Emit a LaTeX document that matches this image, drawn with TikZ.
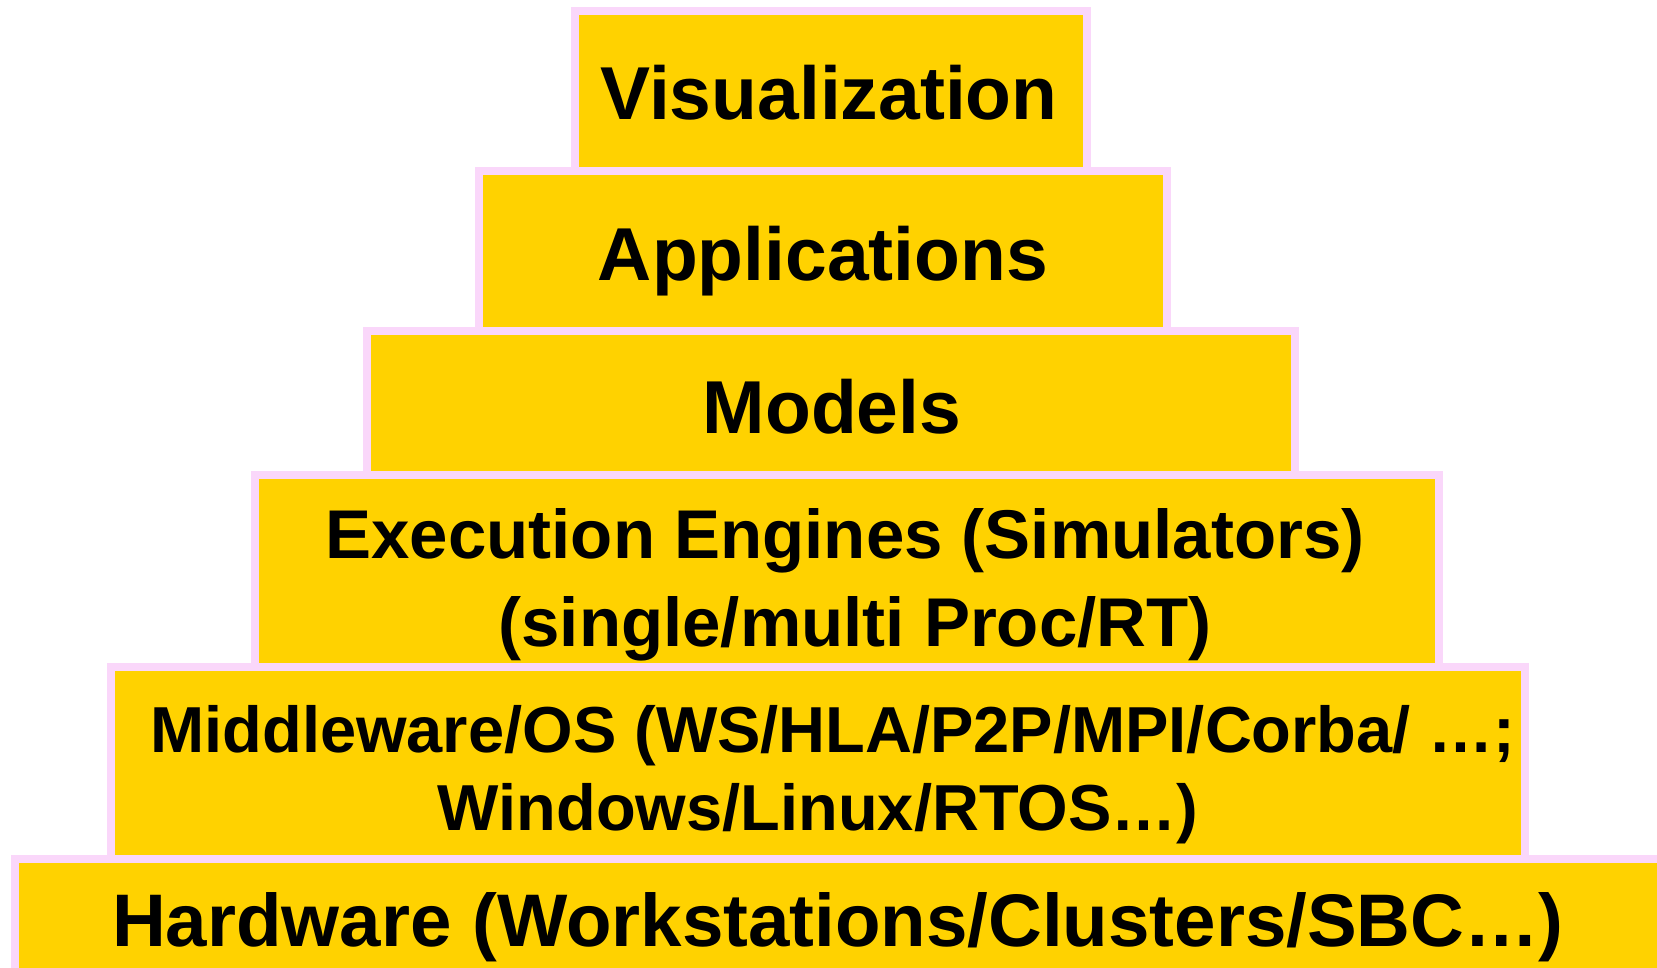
\documentclass[tikz,border=0pt]{standalone}
\usepackage{fontspec}
\setmainfont{Liberation Sans}
\definecolor{layerfill}{HTML}{FFD200}
\definecolor{layeredge}{HTML}{FAD7FA}
\tikzset{
  layer/.style={draw=layeredge, fill=layerfill, line width=8pt, inner sep=0pt, outer sep=0pt},
  big/.style={anchor=base, inner sep=0pt, font=\bfseries\fontsize{75}{90}\selectfont},
  mid/.style={anchor=base, inner sep=0pt, font=\bfseries\fontsize{69}{83}\selectfont},
  small/.style={anchor=base, inner sep=0pt, font=\bfseries\fontsize{65}{78}\selectfont},
}
\begin{document}
\begin{tikzpicture}[x=1pt, y=-1pt]
  \useasboundingbox (0,0) rectangle (1657,968);
  \clip (0,0) rectangle (1657,968);
  % layers of the stack, bottom to top
  \node[layer, minimum width=1665pt, minimum height=121pt] (hw)  at (847.5,919.5) {};
  \node[layer, minimum width=1414pt, minimum height=192pt] (mw)  at (818,763) {};
  \node[layer, minimum width=1184pt, minimum height=192pt] (ee)  at (847,571) {};
  \node[layer, minimum width=928pt,  minimum height=144pt] (mod) at (831,403) {};
  \node[layer, minimum width=688pt,  minimum height=160pt] (app) at (823,251) {};
  \node[layer, minimum width=512pt,  minimum height=160pt] (vis) at (831,91) {};
  % labels
  \node[big]   (visT) at (829,120) {Visualization};
  \node[big]   (appT) at (823,281) {Applications};
  \node[big]   (modT) at (832,433) {Models};
  \node[mid]   (eeT1) at (845,558) {Execution Engines (Simulators)};
  \node[mid]   (eeT2) at (855,646) {(single/multi Proc/RT)};
  \node[small] (mwT1) at (833,752) {Middleware/OS (WS/HLA/P2P/MPI/Corba/ …;};
  \node[small] (mwT2) at (818,830) {Windows/Linux/RTOS…)};
  \node[big, font=\bfseries\fontsize{74.5}{90}\selectfont] (hwT) at (838,946) {Hardware (Workstations/Clusters/SBC…)};
\end{tikzpicture}
\end{document}
